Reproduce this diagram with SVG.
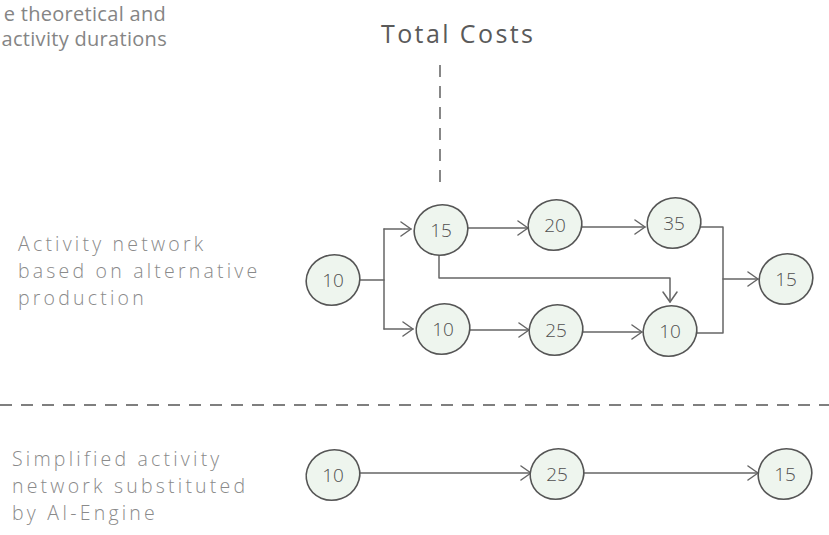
<svg xmlns="http://www.w3.org/2000/svg" width="829" height="535" viewBox="0 0 829 535">
  <style>
    .node ellipse { fill: #eef5ee; stroke: #555; stroke-width: 1.6; }
    .node text { font-family: "Open Sans", "Liberation Sans", sans-serif; font-weight: 300; font-size: 19px; fill: #505050; text-anchor: middle; }
    .conn { fill: none; stroke: #666; stroke-width: 1.5; stroke-linecap: round; stroke-linejoin: round; }
    .dash { fill: none; stroke: #555; stroke-width: 1.4; stroke-dasharray: 12 9; }
    .hand { font-family: "Open Sans", "Liberation Sans", sans-serif; font-weight: 300; fill: #8a8a8a; font-size: 19.5px; letter-spacing: 3.2px; }
    .note { font-family: "Open Sans", "Liberation Sans", sans-serif; font-weight: 400; fill: #858585; font-size: 20px; letter-spacing: 0.3px; }
  </style>
  <defs>
    <marker id="chev" markerUnits="userSpaceOnUse" markerWidth="14" markerHeight="18" refX="11" refY="8" orient="auto">
      <path d="M1,1 L11,8 L1,15" fill="none" stroke="#666" stroke-width="1.5" stroke-linecap="round" stroke-linejoin="round"/>
    </marker>
  </defs>

  <!-- corner note -->
  <g id="note">
    <text class="note" x="166" y="21" text-anchor="end">e theoretical and</text>
    <text class="note" x="167" y="46" text-anchor="end">activity durations</text>
  </g>

  <!-- cost axis -->
  <g id="total-costs">
    <text x="381" y="43" font-family="Open Sans, Liberation Sans, sans-serif" font-weight="400" font-size="25" fill="#5a5a5a" textLength="152" lengthAdjust="spacing">Total Costs</text>
    <line class="dash" x1="440" y1="65" x2="440" y2="186"/>
  </g>

  <!-- row labels -->
  <g id="label-alt">
    <text class="hand" x="18" y="251">Activity network</text>
    <text class="hand" x="18" y="278">based on alternative</text>
    <text class="hand" x="18" y="305">production</text>
  </g>
  <g id="label-simple">
    <text class="hand" x="12" y="466">Simplified activity</text>
    <text class="hand" x="12" y="493">network substituted</text>
    <text class="hand" x="12" y="520">by AI-Engine</text>
  </g>

  <!-- separator -->
  <line id="separator" class="dash" x1="0" y1="405" x2="829" y2="405"/>

  <!-- connectors -->
  <g id="connectors">
    <path class="conn" d="M358,280 H384"/>
    <path class="conn" d="M384,229 V329"/>
    <path class="conn" d="M384,229 H411" marker-end="url(#chev)"/>
    <path class="conn" d="M384,329 H413" marker-end="url(#chev)"/>
    <path class="conn" d="M467,228 H528" marker-end="url(#chev)"/>
    <path class="conn" d="M581,227 H645" marker-end="url(#chev)"/>
    <path class="conn" d="M439,255 V278 H670 V302" marker-end="url(#chev)"/>
    <path class="conn" d="M470,330 H529" marker-end="url(#chev)"/>
    <path class="conn" d="M583,332 H642" marker-end="url(#chev)"/>
    <path class="conn" d="M697,227 H723 V333 H696"/>
    <path class="conn" d="M723,279 H758" marker-end="url(#chev)"/>
    <path class="conn" d="M358,473 H531" marker-end="url(#chev)"/>
    <path class="conn" d="M583,473 H758" marker-end="url(#chev)"/>
  </g>

  <!-- alternative production network -->
  <g id="n-start" class="node"><ellipse cx="333" cy="280" rx="27" ry="25" transform="rotate(-20 333 280)"/><text x="333" y="287">10</text></g>
  <g id="n-15a" class="node"><ellipse cx="441" cy="230" rx="27" ry="25" transform="rotate(-20 441 230)"/><text x="441" y="237">15</text></g>
  <g id="n-20" class="node"><ellipse cx="555" cy="225" rx="27" ry="25" transform="rotate(-20 555 225)"/><text x="555" y="232">20</text></g>
  <g id="n-35" class="node"><ellipse cx="674" cy="223" rx="27" ry="25" transform="rotate(-20 674 223)"/><text x="674" y="230">35</text></g>
  <g id="n-10b" class="node"><ellipse cx="443" cy="329" rx="27" ry="25" transform="rotate(-20 443 329)"/><text x="443" y="336">10</text></g>
  <g id="n-25" class="node"><ellipse cx="556" cy="330" rx="27" ry="25" transform="rotate(-20 556 330)"/><text x="556" y="337">25</text></g>
  <g id="n-10c" class="node"><ellipse cx="670" cy="331" rx="27" ry="25" transform="rotate(-20 670 331)"/><text x="670" y="338">10</text></g>
  <g id="n-end" class="node"><ellipse cx="786" cy="279" rx="27" ry="25" transform="rotate(-20 786 279)"/><text x="786" y="286">15</text></g>

  <!-- simplified network -->
  <g id="s-10" class="node"><ellipse cx="333" cy="475" rx="27" ry="25" transform="rotate(-20 333 475)"/><text x="333" y="482">10</text></g>
  <g id="s-25" class="node"><ellipse cx="557" cy="474" rx="27" ry="25" transform="rotate(-20 557 474)"/><text x="557" y="481">25</text></g>
  <g id="s-15" class="node"><ellipse cx="785" cy="474" rx="27" ry="25" transform="rotate(-20 785 474)"/><text x="785" y="481">15</text></g>
</svg>
